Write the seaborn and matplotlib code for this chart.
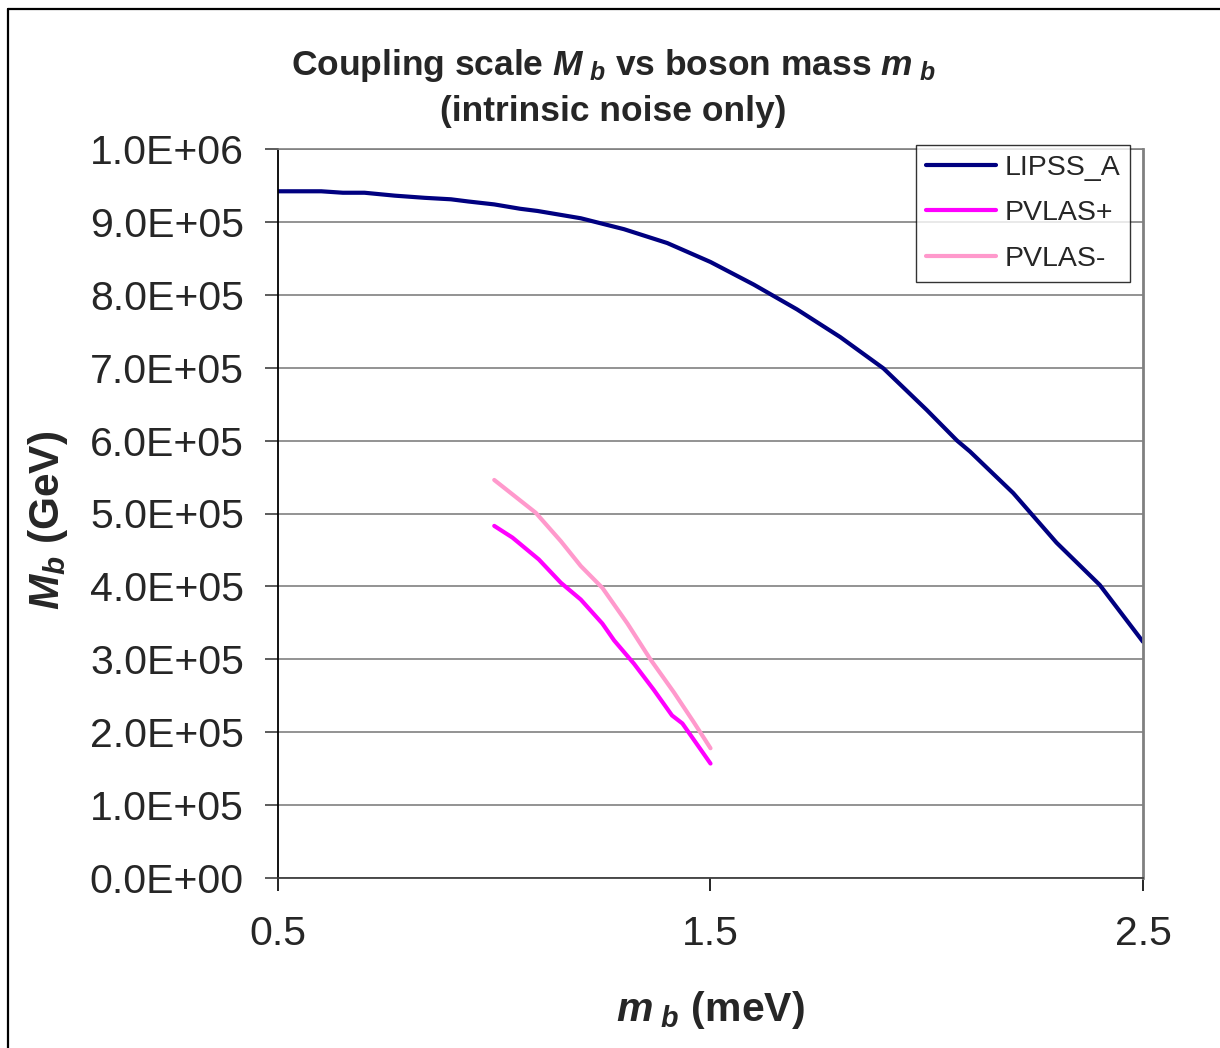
import numpy as np
import pandas as pd
import matplotlib
matplotlib.use("Agg")
import matplotlib.pyplot as plt
import seaborn as sns
from matplotlib.lines import Line2D
from matplotlib.ticker import FuncFormatter, MultipleLocator

# values
lipss_x = [0.5, 0.6, 0.65, 0.7, 0.77, 0.84, 0.9, 0.94, 1.0, 1.06, 1.1, 1.2, 1.3, 1.4,
           1.5, 1.6, 1.7, 1.8, 1.9, 2.0, 2.07, 2.1, 2.2, 2.3, 2.4, 2.5]
lipss_y = [9.42e5, 9.42e5, 9.40e5, 9.40e5, 9.36e5, 9.33e5, 9.31e5, 9.28e5, 9.24e5, 9.18e5,
           9.15e5, 9.05e5, 8.90e5, 8.71e5, 8.45e5, 8.14e5, 7.80e5, 7.42e5, 6.99e5, 6.42e5,
           6.00e5, 5.85e5, 5.28e5, 4.60e5, 4.02e5, 3.24e5]

pvlas_p_x = [1.0, 1.042, 1.103, 1.154, 1.2, 1.25, 1.277, 1.323, 1.369, 1.411, 1.435, 1.5]
pvlas_p_y = [4.83e5, 4.67e5, 4.37e5, 4.05e5, 3.82e5, 3.49e5, 3.26e5, 2.94e5, 2.58e5,
             2.23e5, 2.12e5, 1.57e5]

pvlas_m_x = [1.0, 1.096, 1.154, 1.2, 1.25, 1.308, 1.361, 1.415, 1.461, 1.5]
pvlas_m_y = [5.46e5, 5.01e5, 4.62e5, 4.28e5, 3.98e5, 3.49e5, 3.00e5, 2.55e5, 2.14e5, 1.78e5]

series = ["LIPSS_A", "PVLAS+", "PVLAS-"]
colors = {"LIPSS_A": "#000080", "PVLAS+": "#FF00FF", "PVLAS-": "#FF99CC"}

df = pd.concat([
    pd.DataFrame({"m": lipss_x, "M": lipss_y, "curve": "LIPSS_A"}),
    pd.DataFrame({"m": pvlas_p_x, "M": pvlas_p_y, "curve": "PVLAS+"}),
    pd.DataFrame({"m": pvlas_m_x, "M": pvlas_m_y, "curve": "PVLAS-"}),
])

sns.set_style("white")
plt.rcParams["font.family"] = ["Liberation Sans", "DejaVu Sans"]
plt.rcParams["mathtext.fontset"] = "custom"
plt.rcParams["mathtext.it"] = "Liberation Sans:bold:italic"
plt.rcParams["mathtext.rm"] = "Liberation Sans:bold"
plt.rcParams["mathtext.bf"] = "Liberation Sans:bold"

fig = plt.figure(figsize=(12.2, 10.48), dpi=100)
ax = fig.add_axes([278 / 1220, 1 - 878 / 1048, (1143 - 278) / 1220, (878 - 149) / 1048])

sns.lineplot(data=df, x="m", y="M", hue="curve", hue_order=series, palette=colors,
             estimator=None, sort=False, linewidth=3, ax=ax)

ax.set_xlim(0.5, 2.5)
ax.set_ylim(0, 1.0e6)
ax.set_xticks([0.5, 1.5, 2.5])
ax.xaxis.set_major_formatter(FuncFormatter(lambda v, p: f"{v:.1f}"))
ax.yaxis.set_major_locator(MultipleLocator(1e5))
ax.yaxis.set_major_formatter(FuncFormatter(lambda v, p: f"{v:.1E}"))
ax.tick_params(axis="both", labelsize=29.5, direction="out", length=9.5, width=1.2,
               color="black", left=True, bottom=True)
ax.tick_params(axis="y", pad=15, color="#404040")
ax.tick_params(axis="x", pad=17)

ax.grid(True, axis="y", color="#808080", linewidth=1.2)
ax.grid(False, axis="x")
ax.spines["left"].set_color("black")
ax.spines["left"].set_linewidth(1.3)
ax.spines["bottom"].set_color("#404040")
ax.spines["bottom"].set_linewidth(1.3)
ax.spines["right"].set_color("#808080")
ax.spines["right"].set_linewidth(2)
ax.spines["top"].set_color("#808080")
ax.spines["top"].set_linewidth(1.2)
ax.set_xlabel("")
ax.set_ylabel("")

fig.text(0.503, 1 - 65 / 1048, r"Coupling scale $M_{\ b}$ vs boson mass $m_{\ b}$",
         ha="center", va="center", fontsize=25.5, fontweight="bold")
fig.text(0.503, 1 - 112 / 1048, "(intrinsic noise only)",
         ha="center", va="center", fontsize=25.5, fontweight="bold")
fig.text(710 / 1220, 1 - 1010 / 1048, r"$m_{\ b}$ (meV)", ha="center", va="center",
         fontsize=29.5, fontweight="bold")
fig.text(48 / 1220, 1 - 520 / 1048, r"$M_b$ (GeV)", ha="center", va="center",
         rotation=90, fontsize=30.5, fontweight="bold")

leg = ax.legend(loc="upper right", bbox_to_anchor=(1130 / 1220, 1 - 145 / 1048),
                bbox_transform=fig.transFigure, borderaxespad=0, fontsize=20.5,
                frameon=True, fancybox=False, edgecolor="black", handlelength=2.45,
                handletextpad=0.3, labelspacing=0.68, borderpad=0.35)
leg.get_frame().set_linewidth(1.0)
for line in leg.get_lines():
    line.set_linewidth(3)

# outer frame of the original chart object (only left and top edges are visible)
fig.add_artist(Line2D([8 / 1220, 8 / 1220], [0, 1 - 9 / 1048], transform=fig.transFigure,
                      color="black", linewidth=1.6))
fig.add_artist(Line2D([8 / 1220, 1.05], [1 - 9 / 1048, 1 - 9 / 1048],
                      transform=fig.transFigure, color="black", linewidth=1.6))

fig.savefig("out.png", dpi=100)
